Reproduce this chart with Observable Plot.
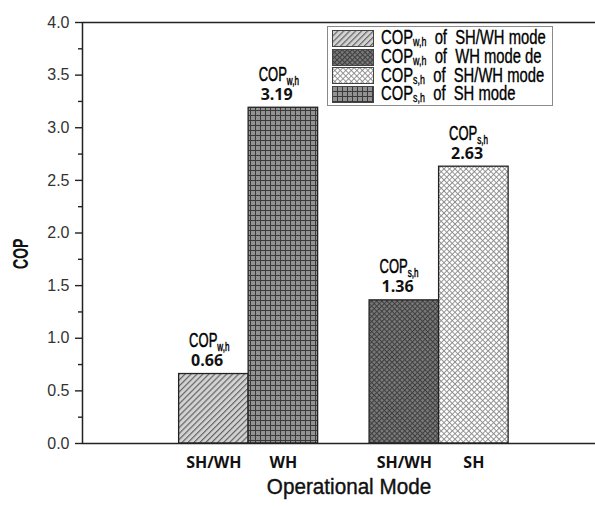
<!DOCTYPE html>
<html><head><meta charset="utf-8">
<script src="https://cdn.jsdelivr.net/npm/d3@7"></script>
<script src="https://cdn.jsdelivr.net/npm/@observablehq/plot@0.6"></script>
<style>
body{margin:0;background:#fff;overflow:hidden}
#wrap{position:relative;width:595px;height:508px;background:#fff}
#legend{position:absolute;left:327px;top:26px;width:226px;height:80px;border:1px solid #8a8a8a;background:#fff;box-sizing:border-box;padding-top:2px;overflow:hidden;
 font-family:"Liberation Sans",Arial,sans-serif;font-size:20px;color:#000;-webkit-text-stroke:0.35px #000}
.row{display:flex;align-items:center;height:18.7px;white-space:nowrap}
.row svg{margin-left:4px;margin-right:7px;flex:none}
.row span{display:inline-block;transform:scaleX(0.74);transform-origin:0 50%;line-height:18px;margin-top:-2px}
.row sub{font-size:0.6em;vertical-align:-0.15em;line-height:0}
</style></head>
<body>
<svg width="0" height="0" style="position:absolute">
 <defs>
  <pattern id="hatch" width="4.2" height="4.2" patternUnits="userSpaceOnUse" patternTransform="rotate(45)">
   <rect width="4.2" height="4.2" fill="#d2d2d2"/><line x1="0.6" y1="0" x2="0.6" y2="4.2" stroke="#5a5a5a" stroke-width="1.1"/>
  </pattern>
  <pattern id="grid" width="5" height="5" patternUnits="userSpaceOnUse">
   <rect width="5" height="5" fill="#929292"/><line x1="0.5" y1="0" x2="0.5" y2="5" stroke="#3a3a3a" stroke-width="1"/><line x1="0" y1="0.5" x2="5" y2="0.5" stroke="#3a3a3a" stroke-width="1"/>
  </pattern>
  <pattern id="dcross" width="3.6" height="3.6" patternUnits="userSpaceOnUse" patternTransform="rotate(45)">
   <rect width="3.6" height="3.6" fill="#7a7a7a"/><line x1="0.5" y1="0" x2="0.5" y2="3.6" stroke="#3e3e3e" stroke-width="1"/><line x1="0" y1="0.5" x2="3.6" y2="0.5" stroke="#3e3e3e" stroke-width="1"/>
  </pattern>
  <pattern id="lcross" width="3.9" height="3.9" patternUnits="userSpaceOnUse" patternTransform="rotate(45)">
   <rect width="3.9" height="3.9" fill="#ffffff"/><line x1="0.5" y1="0" x2="0.5" y2="3.9" stroke="#8a8a8a" stroke-width="0.9"/><line x1="0" y1="0.5" x2="3.9" y2="0.5" stroke="#8a8a8a" stroke-width="0.9"/>
  </pattern>
 </defs>
</svg>
<div id="wrap"></div>
<script>
// ---- data ----
const modes = ["SH/WH", "WH", "SH/WH", "SH"];
const metrics = ["w,h", "w,h", "s,h", "s,h"];
const values = [0.66, 3.19, 1.36, 2.63];
const yMajor = [0, 0.5, 1, 1.5, 2, 2.5, 3, 3.5, 4];
const yMinor = [0.25, 0.75, 1.25, 1.75, 2.25, 2.75, 3.25, 3.75];
const legendMetrics = ["w,h", "w,h", "s,h", "s,h"];
const legendModes = ["SH/WH mode", "WH mode de", "SH/WH mode", "SH mode"];
const xTitle = "Operational Mode";
const yTitle = "COP";

// ---- layout / styles ----
const groupOrder = ["w,h", "s,h"];
const groupStep = 2.74;          // distance between group starts, in bar widths
const xDomain = [-1.39, 5.99];   // in bar widths
const patternOf = {"w,h|SH/WH": "hatch", "w,h|WH": "grid", "s,h|SH/WH": "dcross", "s,h|SH": "lcross"};
const legendPatterns = ["hatch", "dcross", "lcross", "grid"];
const sans = "Liberation Sans, Arial, sans-serif";

const data = values.map((v, i) => {
  const slot = metrics.slice(0, i).filter(m => m === metrics[i]).length;
  return {mode: modes[i], metric: metrics[i], value: v, pos: groupOrder.indexOf(metrics[i]) * groupStep + slot};
});

const chart = Plot.plot({
  width: 595, height: 508,
  marginLeft: 82, marginRight: 0, marginTop: 22, marginBottom: 65,
  style: {fontFamily: sans, fontSize: "16px", color: "#333", background: "#fff", overflow: "visible"},
  x: {domain: xDomain, axis: null},
  y: {domain: [0, 4], axis: null},
  color: {type: "identity"},
  marks: [
    Plot.rectY(data, {x1: "pos", x2: d => d.pos + 1, y: "value", fill: d => `url(#${patternOf[d.metric + "|" + d.mode]})`, stroke: "#222", strokeWidth: 1.3}),
    Plot.text(data, {x: "pos", y: "value", text: d => d.value.toFixed(2), textAnchor: "start", dx: 12, dy: -8, lineAnchor: "bottom",
      fontFamily: "Open Sans", fontWeight: "bold", fontSize: 16, fill: "#111"}),
    Plot.text(data, {x: "pos", y: "value", text: d => "COP" + d.metric, textAnchor: "start", dx: 10, dy: -27, lineAnchor: "bottom",
      fontFamily: sans, fontSize: 21, fill: "#000", stroke: "#000", strokeWidth: 0.5}),
    Plot.text(data, {x: d => d.pos + 0.5, frameAnchor: "bottom", text: "mode", dy: 19.5, lineAnchor: "middle",
      fontFamily: "Open Sans", fontWeight: "bold", fontSize: 16, fill: "#111"}),
    Plot.ruleY([0, 4], {stroke: "#222", strokeWidth: 1.5}),
    Plot.ruleX([xDomain[0]], {y1: 0, y2: 4, stroke: "#222", strokeWidth: 1.5}),
    Plot.axisY({ticks: yMajor, tickSize: 7, tickPadding: 6, tickFormat: d => d.toFixed(1), label: null,
      stroke: "#222", strokeWidth: 1.4, fill: "#333", fontSize: 16}),
    Plot.axisY({ticks: yMinor, tickSize: 4, tickFormat: () => "", label: null, stroke: "#222", strokeWidth: 1.4}),
    Plot.text([yTitle], {text: d => d, frameAnchor: "left", rotate: -90, dx: -62, dy: 36,
      fontFamily: sans, fontWeight: "bold", fontSize: 22, fill: "#111"}),
    Plot.text([xTitle], {text: d => d, frameAnchor: "bottom", dx: 10, dy: 50,
      fontFamily: sans, fontSize: 22, fill: "#111", stroke: "#111", strokeWidth: 0.4})
  ]
});

// subscripts and condensed look for the COP labels and titles
d3.select(chart).selectAll("text").each(function() {
  const el = this;
  const txt = el.textContent;
  const m = /^COP([ws],h)$/.exec(txt);
  let s = null;
  if (m) {
    const t = d3.select(el);
    t.text("COP");
    t.append("tspan").attr("font-size", "13px").attr("dy", "4").text(m[1]);
    s = 0.62;
  } else if (txt === yTitle) s = 0.64;
  else if (txt === xTitle) s = 0.94;
  if (s) el.setAttribute("transform", (el.getAttribute("transform") || "") + ` scale(${s},1)`);
});

const wrap = document.getElementById("wrap");
wrap.appendChild(chart);

// legend
const legend = document.createElement("div");
legend.id = "legend";
legendMetrics.forEach((m, i) => {
  const row = document.createElement("div");
  row.className = "row";
  row.innerHTML = `<svg width="42" height="17"><rect x="0.5" y="0.5" width="41" height="16" fill="url(#${legendPatterns[i]})" stroke="#444" stroke-width="1"/></svg>` +
    `<span>COP<sub>${m}</sub>&nbsp; of&nbsp; ${legendModes[i]}</span>`;
  legend.appendChild(row);
});
wrap.appendChild(legend);
</script>
</body></html>
